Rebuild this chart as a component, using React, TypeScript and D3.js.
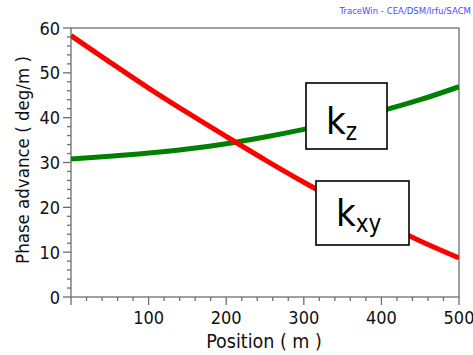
import React from "react";
import * as d3 from "d3";

const positions = [0, 50, 100, 150, 200, 250, 300, 350, 400, 450, 500];
const kxy = [58.3, 52.4, 46.6, 41.1, 35.8, 30.6, 25.6, 20.9, 16.6, 12.5, 8.7];
const kz = [30.8, 31.4, 32.1, 33.0, 34.2, 35.7, 37.4, 39.3, 41.5, 44.0, 46.9];
const xTicks = [100, 200, 300, 400, 500];
const yTicks = [0, 10, 20, 30, 40, 50, 60];

const W = 473;
const H = 355;
const FONT = "Tahoma, 'DejaVu Sans Condensed', 'DejaVu Sans', sans-serif";

export default function App() {
  const x = d3.scaleLinear().domain([0, 500]).range([71, 459]);
  const y = d3.scaleLinear().domain([0, 60]).range([297, 28]);
  const line = (vals: number[]) =>
    d3
      .line<number>()
      .x((_, i) => x(positions[i]))
      .y((v) => y(v))
      .curve(d3.curveMonotoneX)(vals) || "";

  const xMinor = d3.range(0, 501, 20);
  const yMinor = d3.range(0, 61, 2);
  const axisColor = "#6e6e6e";

  return (
    <svg
      width={W}
      height={H}
      style={{ position: "absolute", left: 0, top: 0, background: "#fff" }}
      fontFamily={FONT}
    >
      <rect x={0} y={0} width={W} height={H} fill="#fff" />
      <text x={471} y={14} fontSize={9.5} fill="#4a4aff" textAnchor="end">
        TraceWin - CEA/DSM/Irfu/SACM
      </text>
      <rect x={71} y={28} width={388} height={269} fill="none" stroke={axisColor} strokeWidth={1.3} />
      {xMinor.map((t) => (
        <line key={"xm" + t} x1={x(t)} x2={x(t)} y1={297} y2={t % 100 === 0 ? 305 : 301} stroke={axisColor} strokeWidth={1.3} />
      ))}
      {yMinor.map((t) => (
        <line key={"ym" + t} x1={71} x2={t % 10 === 0 ? 63 : 67} y1={y(t)} y2={y(t)} stroke={axisColor} strokeWidth={1.3} />
      ))}
      {xTicks.map((t) => (
        <text key={"xl" + t} x={x(t)} y={324} fontSize={18} textAnchor="middle" fill="#111">
          {t}
        </text>
      ))}
      {yTicks.map((t) => (
        <text key={"yl" + t} x={60} y={y(t) + 6.5} fontSize={18} textAnchor="end" fill="#111">
          {t}
        </text>
      ))}
      <text x={264} y={348} fontSize={19.5} textAnchor="middle" fill="#111">
        Position ( m )
      </text>
      <text
        transform="translate(29,160) rotate(-90)"
        fontSize={18.5}
        textAnchor="middle"
        fill="#111"
      >
        Phase advance ( deg/m )
      </text>
      <defs>
        <clipPath id="plot">
          <rect x={71} y={28} width={388} height={269} />
        </clipPath>
      </defs>
      <g clipPath="url(#plot)">
        <path d={line(kz)} fill="none" stroke="#008000" strokeWidth={5} />
        <path d={line(kxy)} fill="none" stroke="#ff0000" strokeWidth={5} />
      </g>
      <rect x={306} y={83} width={81} height={66} fill="#fff" stroke="#000" strokeWidth={1.6} />
      <text x={326} y={134} fontSize={38} fill="#000">
        k<tspan fontSize={24} dy={6}>z</tspan>
      </text>
      <rect x={316} y={181} width={93} height={64} fill="#fff" stroke="#000" strokeWidth={1.6} />
      <text x={336} y={226} fontSize={38} fill="#000">
        k<tspan fontSize={24} dy={6}>xy</tspan>
      </text>
    </svg>
  );
}
